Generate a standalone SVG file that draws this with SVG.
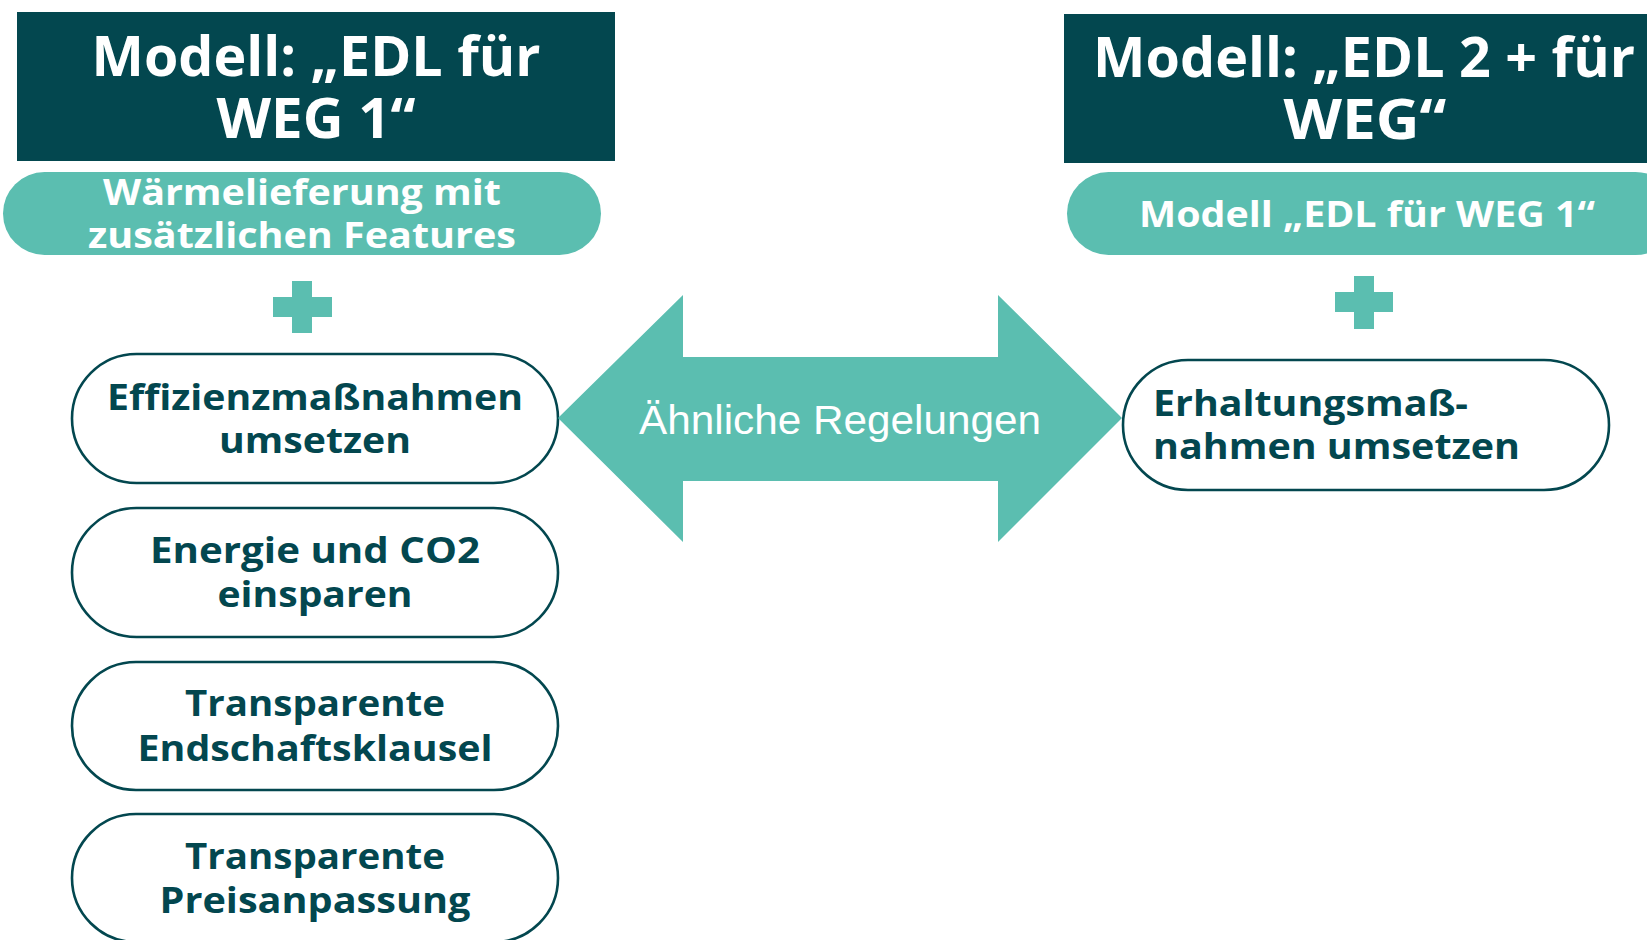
<svg xmlns="http://www.w3.org/2000/svg" width="1647" height="940" viewBox="0 0 1647 940">
<style>
.dark{fill:#03474F}
.teal{fill:#5BBEB0}
.pill{fill:#FFFFFF;stroke:#03474F;stroke-width:2.6}
.title{font-family:"Open Sans","Liberation Sans",sans-serif;font-weight:700;font-size:56px;fill:#FFFFFF}
.sub{font-family:"Open Sans","Liberation Sans",sans-serif;font-weight:700;font-size:35px;fill:#FFFFFF}
.lbl{font-family:"Open Sans","Liberation Sans",sans-serif;font-weight:700;font-size:35px;fill:#03474F}
.arr{font-family:"Liberation Sans",Arial,sans-serif;font-size:40px;fill:#FFFFFF}
</style>
<rect width="1647" height="940" fill="#FFFFFF"/>

<g id="left-title">
<rect class="dark" x="17" y="12" width="598" height="149"/>
<text class="title" x="316" y="76" text-anchor="middle" textLength="449" lengthAdjust="spacingAndGlyphs">Modell: „EDL für</text>
<text class="title" x="316" y="138" text-anchor="middle" textLength="199" lengthAdjust="spacingAndGlyphs">WEG 1“</text>
</g>

<g id="left-sub">
<rect class="teal" x="3" y="172" width="598" height="83" rx="41.5"/>
<text class="sub" x="302" y="205" text-anchor="middle" textLength="398" lengthAdjust="spacingAndGlyphs">Wärmelieferung mit</text>
<text class="sub" x="302" y="248" text-anchor="middle" textLength="428" lengthAdjust="spacingAndGlyphs">zusätzlichen Features</text>
</g>

<g id="left-plus">
<path class="teal" d="M292 281h20v16h20v20h-20v16h-20v-16h-19v-20h19z"/>
</g>

<g id="pill-effizienz">
<rect class="pill" x="72" y="354" width="486" height="129" rx="64.5"/>
<text class="lbl" x="315" y="410" text-anchor="middle" textLength="416" lengthAdjust="spacingAndGlyphs">Effizienzmaßnahmen</text>
<text class="lbl" x="315" y="453" text-anchor="middle" textLength="192" lengthAdjust="spacingAndGlyphs">umsetzen</text>
</g>

<g id="pill-energie">
<rect class="pill" x="72" y="508" width="486" height="129" rx="64.5"/>
<text class="lbl" x="315" y="563" text-anchor="middle" textLength="330" lengthAdjust="spacingAndGlyphs">Energie und CO2</text>
<text class="lbl" x="315" y="607" text-anchor="middle" textLength="195" lengthAdjust="spacingAndGlyphs">einsparen</text>
</g>

<g id="pill-endschaft">
<rect class="pill" x="72" y="662" width="486" height="128" rx="64"/>
<text class="lbl" x="315" y="716" text-anchor="middle" textLength="260" lengthAdjust="spacingAndGlyphs">Transparente</text>
<text class="lbl" x="315" y="761" text-anchor="middle" textLength="355" lengthAdjust="spacingAndGlyphs">Endschaftsklausel</text>
</g>

<g id="pill-preis">
<rect class="pill" x="72" y="814" width="486" height="128" rx="64"/>
<text class="lbl" x="315" y="869" text-anchor="middle" textLength="260" lengthAdjust="spacingAndGlyphs">Transparente</text>
<text class="lbl" x="315" y="913" text-anchor="middle" textLength="311" lengthAdjust="spacingAndGlyphs">Preisanpassung</text>
</g>

<g id="right-title">
<rect class="dark" x="1064" y="14" width="590" height="149"/>
<text class="title" x="1364" y="77" text-anchor="middle" textLength="542" lengthAdjust="spacingAndGlyphs">Modell: „EDL 2 + für</text>
<text class="title" x="1365" y="139" text-anchor="middle" textLength="163" lengthAdjust="spacingAndGlyphs">WEG“</text>
</g>

<g id="right-sub">
<rect class="teal" x="1067" y="172" width="610" height="83" rx="41.5"/>
<text class="sub" x="1367" y="227" text-anchor="middle" textLength="456" lengthAdjust="spacingAndGlyphs">Modell „EDL für WEG 1“</text>
</g>

<g id="right-plus">
<path class="teal" d="M1354 276h20v16h19v20h-19v17h-20v-17h-19v-20h19z"/>
</g>

<g id="pill-erhaltung">
<rect class="pill" x="1123" y="360" width="486" height="130" rx="65"/>
<text class="lbl" x="1153" y="416" textLength="315" lengthAdjust="spacingAndGlyphs">Erhaltungsmaß-</text>
<text class="lbl" x="1153" y="459" textLength="367" lengthAdjust="spacingAndGlyphs">nahmen umsetzen</text>
</g>

<g id="connectors">
<path class="teal" d="M558 418L683 295V357H998V295L1122 418L998 542V481H683V542Z"/>
<text class="arr" x="840" y="434" text-anchor="middle" textLength="402" lengthAdjust="spacingAndGlyphs">Ähnliche Regelungen</text>
</g>
</svg>
